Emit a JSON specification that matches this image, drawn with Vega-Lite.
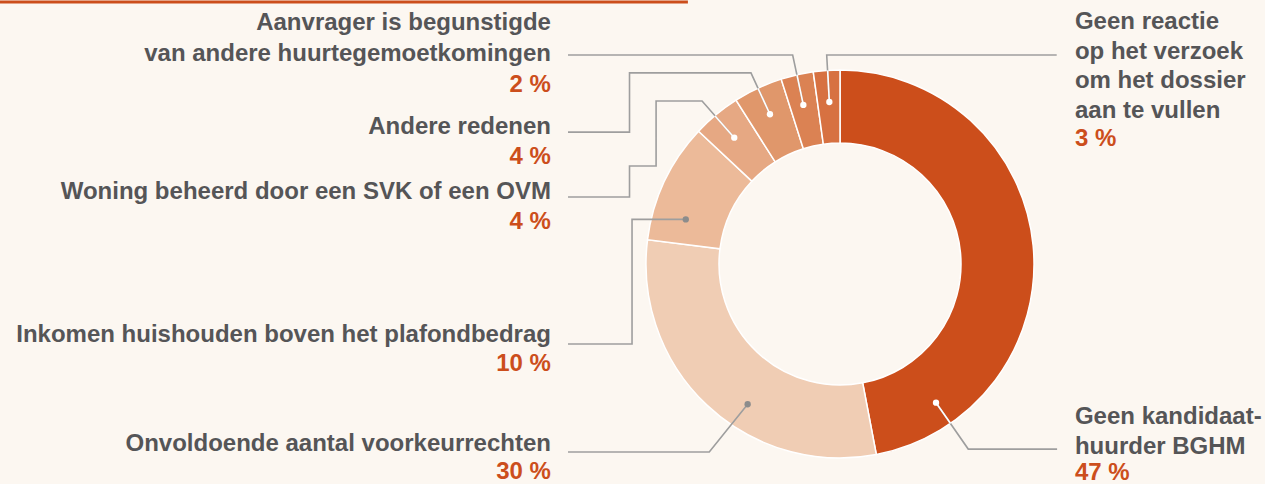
{
  "$schema": "https://vega.github.io/schema/vega-lite/v6.json",
  "width": 1265,
  "height": 484,
  "autosize": "none",
  "padding": 0,
  "background": "#fcf7f1",
  "config": {"view": {"stroke": null}},
  "datasets": {
    "slices": [
      {"reason": "Geen kandidaat-huurder BGHM", "share": 47, "order": 1},
      {"reason": "Onvoldoende aantal voorkeurrechten", "share": 30, "order": 2},
      {"reason": "Inkomen huishouden boven het plafondbedrag", "share": 10, "order": 3},
      {"reason": "Woning beheerd door een SVK of een OVM", "share": 4, "order": 4},
      {"reason": "Andere redenen", "share": 4.1, "order": 5},
      {"reason": "Aanvrager is begunstigde van andere huurtegemoetkomingen", "share": 2.7, "order": 6},
      {"reason": "Geen reactie op het verzoek om het dossier aan te vullen", "share": 2.2, "order": 7}
    ],
    "labels": [
      {"slice": "Aanvrager", "side": "left", "text": "Aanvrager is begunstigde\nvan andere huurtegemoetkomingen", "pct": "2 %", "x": -1.49, "y": 1.206, "py": 0.887},
      {"slice": "Andere", "side": "left", "text": "Andere redenen", "pct": "4 %", "x": -1.49, "y": 0.67, "py": 0.515},
      {"slice": "Woning", "side": "left", "text": "Woning beheerd door een SVK of een OVM", "pct": "4 %", "x": -1.49, "y": 0.335, "py": 0.18},
      {"slice": "Inkomen", "side": "left", "text": "Inkomen huishouden boven het plafondbedrag", "pct": "10 %", "x": -1.49, "y": -0.402, "py": -0.552},
      {"slice": "Onvoldoende", "side": "left", "text": "Onvoldoende aantal voorkeurrechten", "pct": "30 %", "x": -1.49, "y": -0.964, "py": -1.11},
      {"slice": "Geen reactie", "side": "right", "text": "Geen reactie\nop het verzoek\nom het dossier\naan te vullen", "pct": "3 %", "x": 1.211, "y": 1.211, "py": 0.608},
      {"slice": "Geen kandidaat", "side": "right", "text": "Geen kandidaat-\nhuurder BGHM", "pct": "47 %", "x": 1.211, "y": -0.825, "py": -1.113}
    ],
    "leaders": [
      {"slice": "Aanvrager", "seq": 1, "x": -1.402, "y": 1.077},
      {"slice": "Aanvrager", "seq": 2, "x": -0.244, "y": 1.077},
      {"slice": "Aanvrager", "seq": 3, "x": -0.189, "y": 0.82},
      {"slice": "Geen reactie", "seq": 1, "x": 1.117, "y": 1.077},
      {"slice": "Geen reactie", "seq": 2, "x": -0.0686, "y": 1.077},
      {"slice": "Geen reactie", "seq": 3, "x": -0.055, "y": 0.835},
      {"slice": "Andere", "seq": 1, "x": -1.402, "y": 0.68},
      {"slice": "Andere", "seq": 2, "x": -1.085, "y": 0.68},
      {"slice": "Andere", "seq": 3, "x": -1.085, "y": 0.985},
      {"slice": "Andere", "seq": 4, "x": -0.459, "y": 0.985},
      {"slice": "Andere", "seq": 5, "x": -0.361, "y": 0.772},
      {"slice": "Woning", "seq": 1, "x": -1.402, "y": 0.345},
      {"slice": "Woning", "seq": 2, "x": -1.085, "y": 0.345},
      {"slice": "Woning", "seq": 3, "x": -1.085, "y": 0.505},
      {"slice": "Woning", "seq": 4, "x": -0.948, "y": 0.505},
      {"slice": "Woning", "seq": 5, "x": -0.948, "y": 0.84},
      {"slice": "Woning", "seq": 6, "x": -0.711, "y": 0.84},
      {"slice": "Woning", "seq": 7, "x": -0.545, "y": 0.651},
      {"slice": "Inkomen", "seq": 1, "x": -1.402, "y": -0.412},
      {"slice": "Inkomen", "seq": 2, "x": -1.072, "y": -0.412},
      {"slice": "Inkomen", "seq": 3, "x": -1.072, "y": 0.23},
      {"slice": "Inkomen", "seq": 4, "x": -0.795, "y": 0.23},
      {"slice": "Onvoldoende", "seq": 1, "x": -1.402, "y": -0.969},
      {"slice": "Onvoldoende", "seq": 2, "x": -0.674, "y": -0.969},
      {"slice": "Onvoldoende", "seq": 3, "x": -0.476, "y": -0.723},
      {"slice": "Geen kandidaat", "seq": 1, "x": 1.119, "y": -0.954},
      {"slice": "Geen kandidaat", "seq": 2, "x": 0.661, "y": -0.954},
      {"slice": "Geen kandidaat", "seq": 3, "x": 0.495, "y": -0.715}
    ],
    "inner": [
      {"slice": "Aanvrager", "seq": 1, "x": -0.222, "y": 0.976},
      {"slice": "Aanvrager", "seq": 2, "x": -0.189, "y": 0.82},
      {"slice": "Geen reactie", "seq": 1, "x": -0.0637, "y": 0.998},
      {"slice": "Geen reactie", "seq": 2, "x": -0.055, "y": 0.835},
      {"slice": "Andere", "seq": 1, "x": -0.423, "y": 0.906},
      {"slice": "Andere", "seq": 2, "x": -0.361, "y": 0.772},
      {"slice": "Woning", "seq": 1, "x": -0.645, "y": 0.764},
      {"slice": "Woning", "seq": 2, "x": -0.545, "y": 0.651},
      {"slice": "Geen kandidaat", "seq": 1, "x": 0.57, "y": -0.822},
      {"slice": "Geen kandidaat", "seq": 2, "x": 0.495, "y": -0.715}
    ],
    "dots": [
      {"slice": "Aanvrager", "x": -0.189, "y": 0.82},
      {"slice": "Geen reactie", "x": -0.055, "y": 0.835},
      {"slice": "Andere", "x": -0.361, "y": 0.772},
      {"slice": "Woning", "x": -0.545, "y": 0.651},
      {"slice": "Inkomen", "x": -0.795, "y": 0.23},
      {"slice": "Onvoldoende", "x": -0.476, "y": -0.723},
      {"slice": "Geen kandidaat", "x": 0.495, "y": -0.715}
    ],
    "header": [{"x": -4.33, "x2": -0.784, "y": 1.351}]
  },
  "layer": [
    {
      "data": {"name": "header"},
      "mark": {"type": "rule", "color": "#cc4e1c", "strokeWidth": 3},
      "encoding": {
        "x": {"field": "x", "type": "quantitative", "scale": {"domain": [-4.3299, 2.1907], "nice": false, "zero": false}, "axis": null},
        "x2": {"field": "x2"},
        "y": {"field": "y", "type": "quantitative", "scale": {"domain": [-1.134, 1.3608], "nice": false, "zero": false}, "axis": null}
      }
    },
    {
      "data": {"name": "slices"},
      "mark": {"type": "arc", "outerRadius": 194, "innerRadius": 121, "stroke": "#ffffff", "strokeWidth": 1.5},
      "encoding": {
        "x": {"datum": 0, "type": "quantitative"},
        "y": {"datum": 0, "type": "quantitative"},
        "theta": {"field": "share", "type": "quantitative", "stack": true},
        "order": {"field": "order", "type": "quantitative"},
        "color": {
          "field": "reason", "type": "nominal", "legend": null,
          "scale": {
            "domain": ["Geen kandidaat-huurder BGHM", "Onvoldoende aantal voorkeurrechten", "Inkomen huishouden boven het plafondbedrag", "Woning beheerd door een SVK of een OVM", "Andere redenen", "Aanvrager is begunstigde van andere huurtegemoetkomingen", "Geen reactie op het verzoek om het dossier aan te vullen"],
            "range": ["#cc4e1b", "#f0cdb4", "#ecba99", "#e6a883", "#e0976b", "#db8253", "#d77141"]
          }
        }
      }
    },
    {
      "data": {"name": "leaders"},
      "mark": {"type": "line", "color": "#9e9e9e", "strokeWidth": 1.6, "interpolate": "linear"},
      "encoding": {
        "x": {"field": "x", "type": "quantitative"},
        "y": {"field": "y", "type": "quantitative"},
        "detail": {"field": "slice"},
        "order": {"field": "seq", "type": "quantitative"}
      }
    },
    {
      "data": {"name": "inner"},
      "mark": {"type": "line", "color": "#ffffff", "strokeWidth": 1.6},
      "encoding": {
        "x": {"field": "x", "type": "quantitative"},
        "y": {"field": "y", "type": "quantitative"},
        "detail": {"field": "slice"},
        "order": {"field": "seq", "type": "quantitative"}
      }
    },
    {
      "data": {"name": "dots"},
      "mark": {"type": "point", "filled": true, "opacity": 1, "size": 40},
      "encoding": {
        "x": {"field": "x", "type": "quantitative"},
        "y": {"field": "y", "type": "quantitative"},
        "color": {
          "condition": {"test": "datum.slice === 'Inkomen' || datum.slice === 'Onvoldoende'", "value": "#8c8c8c"},
          "value": "#ffffff"
        }
      }
    },
    {
      "data": {"name": "labels"},
      "transform": [{"filter": "datum.side === 'left'"}],
      "mark": {"type": "text", "align": "right", "baseline": "alphabetic", "font": "Liberation Sans", "fontWeight": "bold", "fontSize": 24, "lineBreak": "\n", "lineHeight": 31, "color": "#555557"},
      "encoding": {
        "x": {"field": "x", "type": "quantitative"},
        "y": {"field": "y", "type": "quantitative"},
        "text": {"field": "text"}
      }
    },
    {
      "data": {"name": "labels"},
      "transform": [{"filter": "datum.side === 'right'"}],
      "mark": {"type": "text", "align": "left", "baseline": "alphabetic", "font": "Liberation Sans", "fontWeight": "bold", "fontSize": 24, "lineBreak": "\n", "lineHeight": 29.5, "color": "#555557"},
      "encoding": {
        "x": {"field": "x", "type": "quantitative"},
        "y": {"field": "y", "type": "quantitative"},
        "text": {"field": "text"}
      }
    },
    {
      "data": {"name": "labels"},
      "transform": [{"filter": "datum.side === 'left'"}],
      "mark": {"type": "text", "align": "right", "baseline": "alphabetic", "font": "Liberation Sans", "fontWeight": "bold", "fontSize": 24, "color": "#cc4e1c"},
      "encoding": {
        "x": {"field": "x", "type": "quantitative"},
        "y": {"field": "py", "type": "quantitative"},
        "text": {"field": "pct"}
      }
    },
    {
      "data": {"name": "labels"},
      "transform": [{"filter": "datum.side === 'right'"}],
      "mark": {"type": "text", "align": "left", "baseline": "alphabetic", "font": "Liberation Sans", "fontWeight": "bold", "fontSize": 24, "color": "#cc4e1c"},
      "encoding": {
        "x": {"field": "x", "type": "quantitative"},
        "y": {"field": "py", "type": "quantitative"},
        "text": {"field": "pct"}
      }
    }
  ]
}
